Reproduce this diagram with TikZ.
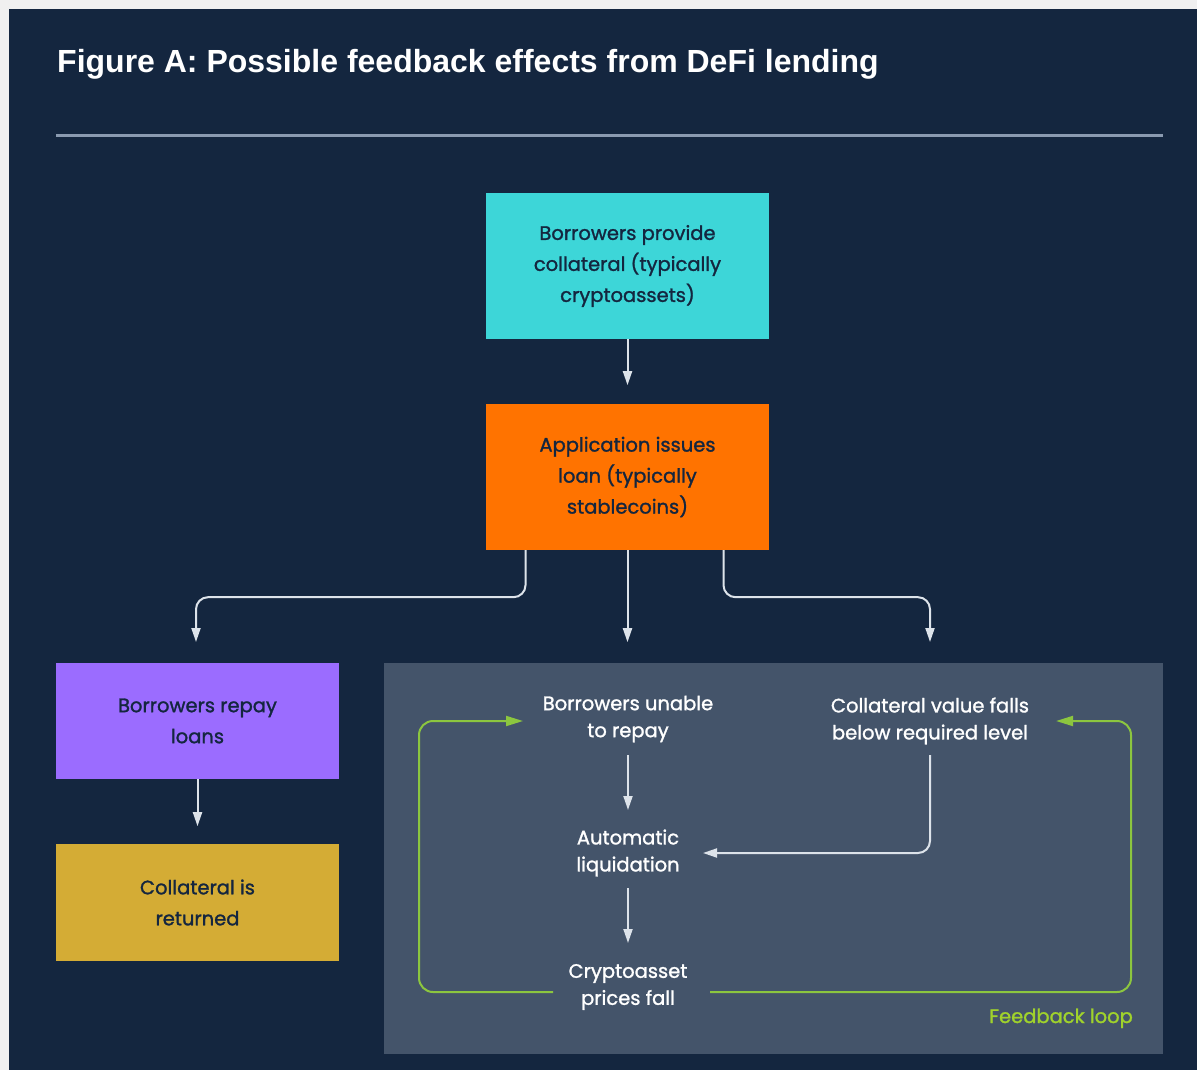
\documentclass[tikz,border=0pt]{standalone}
\usepackage{fontspec}
\setmainfont{Liberation Sans}
\newfontfamily\popf{Poppins}[FakeBold=1.3]
\usetikzlibrary{arrows.meta}
\definecolor{bgout}{HTML}{F0F0F0}
\definecolor{navy}{HTML}{14263F}
\definecolor{rulec}{HTML}{8A9AB0}
\definecolor{cyanb}{HTML}{3DD6D8}
\definecolor{orangeb}{HTML}{FF7300}
\definecolor{purpleb}{HTML}{9B6CFF}
\definecolor{goldb}{HTML}{D4AC35}
\definecolor{panelc}{HTML}{44546A}
\definecolor{arrc}{HTML}{DDE3EA}
\definecolor{greenc}{HTML}{8CC63F}
\definecolor{greent}{HTML}{A0D22C}
\tikzset{
  box/.style={minimum width=283pt, inner sep=0pt, align=center, text=navy,
    font={\popf\fontsize{19.5}{31}\selectfont}},
  ptext/.style={inner sep=0pt, align=center, text=white,
    font={\popf\fontsize{19.5}{27}\selectfont}},
  arr/.style={draw=arrc, line width=2pt, rounded corners=12pt,
    -{Triangle[length=14pt,width=9pt]}},
  garr/.style={draw=greenc, line width=2pt, rounded corners=14pt,
    -{Triangle[length=17pt,width=10pt]}}
}
\begin{document}
\begin{tikzpicture}[x=1pt,y=-1pt]
\useasboundingbox (0,0) rectangle (1197,1070);
\fill[bgout] (0,0) rectangle (1197,1070);
\fill[navy] (9,9) rectangle (1197,1070);
\node[anchor=base west, text=white, font={\fontsize{32}{38}\selectfont\bfseries}, inner sep=0pt] (title) at (57,73) {Figure A: Possible feedback effects from DeFi lending};
\draw[rulec, line width=3pt] (56,136) coordinate (r1) -- (1163,136) coordinate (r2);
% panel
\fill[panelc] (384,663) rectangle (1163,1054);
% boxes
\node[box, fill=cyanb, minimum height=146pt] (cyan) at (627.5,266) {Borrowers provide\\collateral (typically\\cryptoassets)};
\node[box, fill=orangeb, minimum height=146pt] (orange) at (627.5,477) {Application issues\\loan (typically\\stablecoins)};
\node[box, fill=purpleb, minimum height=116pt] (purple) at (197.5,721) {Borrowers repay\\loans};
\node[box, fill=goldb, minimum height=117pt] (gold) at (197.5,902.5) {Collateral is\\returned};
% panel texts
\node[ptext] (unable) at (628,719) {Borrowers unable\\to repay};
\node[ptext] (falls) at (930,721) {Collateral value falls\\below required level};
\node[ptext] (liq) at (628,853) {Automatic\\liquidation};
\node[ptext] (prices) at (628,987) {Cryptoasset\\prices fall};
\node[anchor=base east, inner sep=0pt, text=greent, font={\popf\fontsize{19.5}{22}\selectfont}] (fb) at (1133,1023) {Feedback loop};
% free ends
\coordinate (tl) at (196,642);
\coordinate (tr) at (930,642);
\coordinate (liqin) at (703,853);
\coordinate (gtipL) at (523,721);
\coordinate (gtipR) at (1056,721);
% connectors
\draw[arr] (cyan.south) -- ++(0,46);
\draw[arr] (orange.south) -- ++(0,92);
\draw[arr] ([xshift=-102pt]orange.south) -- ++(0,47) -| (tl);
\draw[arr] ([xshift=96pt]orange.south) -- ++(0,47) -| (tr);
\draw[arr] (purple.south) -- ++(0,47);
\draw[arr] (unable.south |- 0,755) -- (unable.south |- 0,810);
\draw[arr] (liq.south |- 0,888) -- (liq.south |- 0,943);
\draw[arr] (falls.south |- 0,755) -- (falls.south |- 0,853) -- (liqin);
% green loop
\draw[garr] (553,992) -- (419,992) -- (419,721) -- (gtipL);
\draw[garr] (710,992) -- (1131,992) -- (1131,721) -- (gtipR);
\end{tikzpicture}
\end{document}
